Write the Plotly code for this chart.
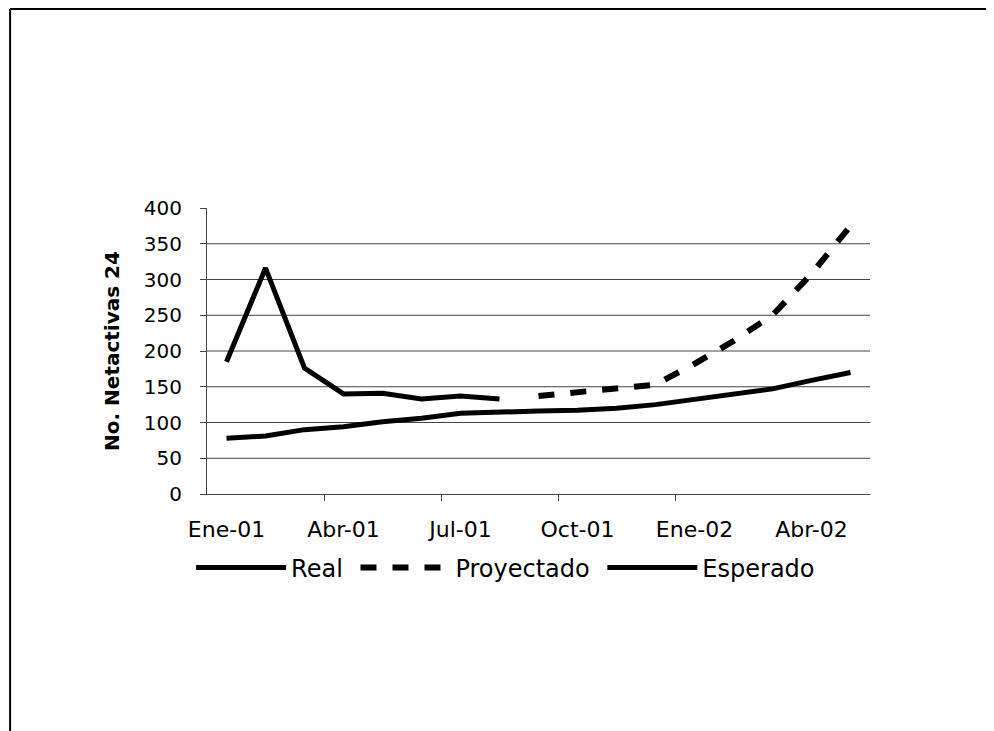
import plotly.graph_objects as go

months = ["Ene-01", "Feb-01", "Mar-01", "Abr-01", "May-01", "Jun-01", "Jul-01", "Ago-01",
          "Sep-01", "Oct-01", "Nov-01", "Dic-01", "Ene-02", "Feb-02", "Mar-02", "Abr-02", "May-02"]
real = [185, 316, 176, 140, 141, 133, 137, 133,
        None, None, None, None, None, None, None, None, None]
proyectado = [None, None, None, None, None, None, None, None,
              137, 143, 147, 153, 182, 214, 250, 308, 375]
esperado = [78, 81, 90, 94, 101, 106, 113, 115, 116, 117, 120, 125, 132, 140, 147, 159, 170]
tick_labels = ["Ene-01", "Abr-01", "Jul-01", "Oct-01", "Ene-02", "Abr-02"]
y_ticks = [0, 50, 100, 150, 200, 250, 300, 350, 400]
# tick marks sit on the boundaries between quarters (category positions)
x_tick_boundaries = [2.5, 5.5, 8.5, 11.5]

FONT = "DejaVu Sans"
AXIS_GREY = "#444"

fig = go.Figure()
fig.add_trace(go.Scatter(x=months, y=real, name="Real\u00a0", mode="lines",
                         line=dict(color="black", width=5)))
fig.add_trace(go.Scatter(x=months, y=proyectado, name="Proyectado\u00a0", mode="lines",
                         line=dict(color="black", width=6, dash="16px,16px")))
fig.add_trace(go.Scatter(x=months, y=esperado, name="Esperado", mode="lines",
                         line=dict(color="black", width=5)))
# empty helper trace so the overlay axis carrying the boundary ticks is drawn
fig.add_trace(go.Scatter(x=[], y=[], xaxis="x2", yaxis="y", showlegend=False,
                         hoverinfo="skip", mode="lines"))

fig.update_layout(
    width=994, height=731,
    margin=dict(l=199, r=132, t=200, b=245),
    paper_bgcolor="white", plot_bgcolor="white",
    font=dict(family=FONT, size=20, color="black"),
    showlegend=True,
    legend=dict(orientation="h", x=-0.024, xanchor="left", y=-0.18, yanchor="top",
                font=dict(size=24), itemwidth=90, traceorder="normal",
                bgcolor="rgba(0,0,0,0)"),
    xaxis=dict(type="category", categoryorder="array", categoryarray=months,
               range=[-0.5, 16.5], tickmode="array", tickvals=tick_labels,
               ticktext=tick_labels, ticks="", showgrid=False, showline=True,
               linecolor=AXIS_GREY, linewidth=1, ticklabelstandoff=16,
               tickangle=0, tickfont=dict(size=22)),
    xaxis2=dict(overlaying="x", anchor="y", range=[-0.5, 16.5], tickmode="array",
                tickvals=x_tick_boundaries, ticks="outside", ticklen=6,
                tickcolor=AXIS_GREY, showticklabels=False, showgrid=False,
                showline=False, zeroline=False, side="bottom"),
    yaxis=dict(range=[0, 400], tickmode="array", tickvals=y_ticks,
               ticks="outside", ticklen=6, tickcolor=AXIS_GREY,
               showgrid=False, showline=True, linecolor=AXIS_GREY, linewidth=1,
               zeroline=False, ticklabelstandoff=14, tickfont=dict(size=20),
               title=dict(text="<b>No. Netactivas 24</b>", font=dict(size=20), standoff=18)),
)

# horizontal gridlines (none at the top value, as in the original)
for v in y_ticks[1:-1]:
    fig.add_shape(type="line", xref="paper", yref="y", x0=0, x1=1, y0=v, y1=v,
                  line=dict(color=AXIS_GREY, width=1), layer="below")

# outer frame of the original picture
frame_left, frame_right, frame_top = -0.297, 1.184, 1.696
fig.add_shape(type="line", xref="paper", yref="paper", x0=frame_left, x1=frame_right,
              y0=frame_top, y1=frame_top, line=dict(color="black", width=2))
fig.add_shape(type="line", xref="paper", yref="paper", x0=frame_left, x1=frame_left,
              y0=frame_top, y1=-0.9, line=dict(color="black", width=2))
fig.add_shape(type="line", xref="paper", yref="paper", x0=frame_right, x1=frame_right,
              y0=frame_top, y1=-0.9, line=dict(color="#bbb", width=1))

fig.write_html("out.html")
